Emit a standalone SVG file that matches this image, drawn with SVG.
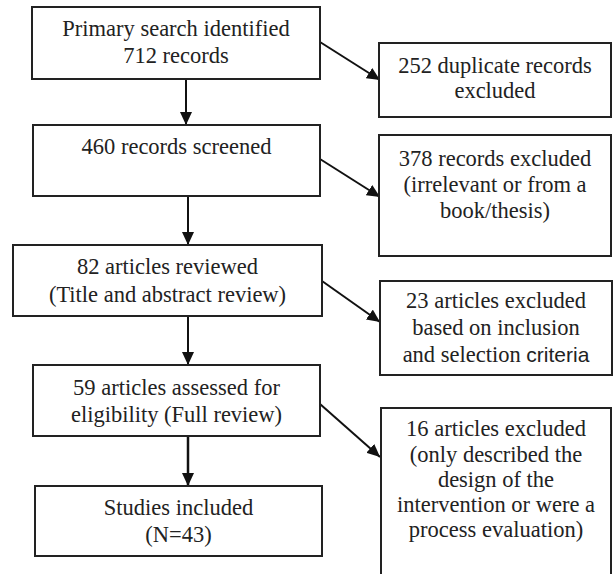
<svg xmlns="http://www.w3.org/2000/svg" width="613" height="574" viewBox="0 0 613 574">
<defs>
<marker id="ah" markerUnits="userSpaceOnUse" markerWidth="14" markerHeight="12" refX="13" refY="6" orient="auto">
<path d="M0,0 L13,6 L0,12 Z" fill="#111"/>
</marker>
</defs>
<style>
.box{fill:#fff;stroke:#222;stroke-width:2}
.t{font-family:'Liberation Serif','DejaVu Serif',serif;font-size:22.5px;fill:#222;text-anchor:middle}
.s{font-family:'Liberation Sans','DejaVu Sans',sans-serif;font-size:21px}
.c{stroke:#111;stroke-width:2;fill:none;marker-end:url(#ah)}
</style>
<rect width="613" height="574" fill="#fff"/>
<g id="connectors">
<line class="c" x1="186" y1="79" x2="186" y2="125"/>
<line class="c" x1="188" y1="196" x2="188" y2="245"/>
<line class="c" x1="188" y1="316" x2="188" y2="365"/>
<line class="c" x1="188" y1="436" x2="188" y2="486" style="stroke-width:2.5"/>
<line class="c" x1="320" y1="42" x2="380" y2="80"/>
<line class="c" x1="320" y1="159" x2="380" y2="197"/>
<line class="c" x1="322" y1="281" x2="380" y2="322"/>
<line class="c" x1="320" y1="404" x2="380" y2="457"/>
</g>
<g id="n1">
<rect class="box" x="32" y="7" width="288" height="72"/>
<text class="t" x="176" y="36">Primary search identified</text>
<text class="t" x="176" y="63">712 records</text>
</g>
<g id="n2">
<rect class="box" x="33" y="125" width="287" height="71"/>
<text class="t" x="176.5" y="154">460 records screened</text>
</g>
<g id="n3">
<rect class="box" x="13" y="245" width="309" height="71"/>
<text class="t" x="167.5" y="274">82 articles reviewed</text>
<text class="t" x="167.5" y="302">(Title and abstract review)</text>
</g>
<g id="n4">
<rect class="box" x="33" y="365" width="287" height="71"/>
<text class="t" x="176.5" y="395">59 articles assessed for</text>
<text class="t" x="176.5" y="422">eligibility (Full review)</text>
</g>
<g id="n5">
<rect class="box" x="35" y="486" width="287" height="70"/>
<text class="t" x="178.5" y="515">Studies included</text>
<text class="t" x="178.5" y="542">(N=43)</text>
</g>
<g id="r1">
<rect class="box" x="379" y="43" width="232" height="74"/>
<text class="t" x="495" y="73">252 duplicate records</text>
<text class="t" x="495" y="98">excluded</text>
</g>
<g id="r2">
<rect class="box" x="379" y="135" width="232" height="121"/>
<text class="t" x="495" y="166">378 records excluded</text>
<text class="t" x="495" y="192">(irrelevant or from a</text>
<text class="t" x="495" y="218">book/thesis)</text>
</g>
<g id="r3">
<rect class="box" x="380" y="281" width="232" height="94"/>
<text class="t" x="496" y="308">23 articles excluded</text>
<text class="t" x="496" y="335">based on inclusion</text>
<text class="t" x="496" y="362">and selection <tspan class="s">criteria</tspan></text>
</g>
<g id="r4">
<rect class="box" x="381" y="408" width="230" height="180"/>
<text class="t" x="496" y="436">16 articles excluded</text>
<text class="t" x="496" y="462">(only described the</text>
<text class="t" x="496" y="487">design of the</text>
<text class="t" x="496" y="512">intervention or were a</text>
<text class="t" x="496" y="537">process evaluation)</text>
</g>
</svg>
